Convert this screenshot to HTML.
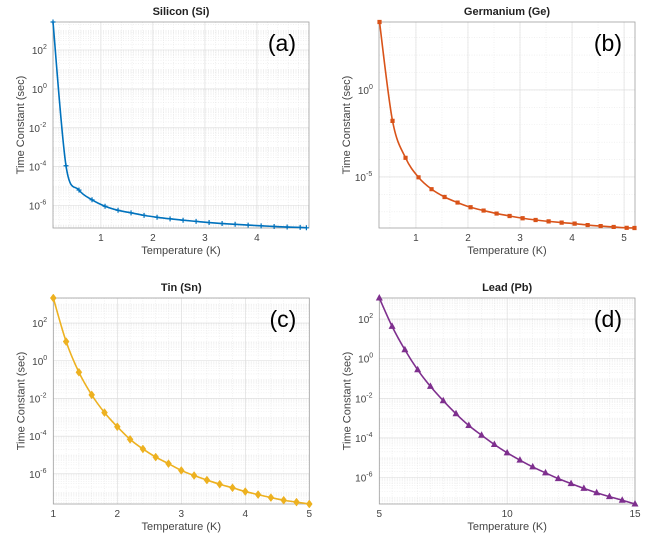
<!DOCTYPE html>
<html><head><meta charset="utf-8"><style>
html,body{margin:0;padding:0;background:#fff;}
svg{display:block;font-family:"Liberation Sans",Arial,sans-serif;}
</style></head><body>
<svg id="fig" width="665" height="539" viewBox="0 0 665 539"></svg>
<script>
// ---- data (log10 of time constant in seconds) ----
const siTemps = [0.08,0.33,0.58,0.83,1.08,1.33,1.58,1.83,2.08,2.33,2.58,2.83,3.08,3.33,3.58,3.83,4.08,4.33,4.58,4.83,4.95];
const siLogTau = [3.44,-3.95,-5.2,-5.7,-6.03,-6.24,-6.37,-6.5,-6.6,-6.68,-6.75,-6.81,-6.87,-6.92,-6.96,-7.0,-7.04,-7.07,-7.1,-7.12,-7.14];
const geTemps = [0.3,0.55,0.8,1.05,1.3,1.55,1.8,2.05,2.3,2.55,2.8,3.05,3.3,3.55,3.8,4.05,4.3,4.55,4.8,5.05,5.2];
const geLogTau = [3.9,-1.78,-3.9,-5.02,-5.7,-6.15,-6.47,-6.74,-6.93,-7.1,-7.24,-7.37,-7.47,-7.55,-7.62,-7.68,-7.76,-7.82,-7.87,-7.92,-7.93];
const snTemps = [1,1.2,1.4,1.6,1.8,2,2.2,2.4,2.6,2.8,3,3.2,3.4,3.6,3.8,4,4.2,4.4,4.6,4.8,5];
const snLogTau = [3.33,1.02,-0.61,-1.81,-2.75,-3.5,-4.17,-4.68,-5.11,-5.46,-5.82,-6.09,-6.33,-6.55,-6.74,-6.94,-7.1,-7.26,-7.4,-7.5,-7.6];
const pbTemps = [5,5.5,6,6.5,7,7.5,8,8.5,9,9.5,10,10.5,11,11.5,12,12.5,13,13.5,14,14.5,15];
const pbLogTau = [3.06,1.63,0.45,-0.56,-1.4,-2.12,-2.78,-3.37,-3.86,-4.33,-4.75,-5.12,-5.46,-5.76,-6.05,-6.3,-6.54,-6.76,-6.96,-7.14,-7.33];
const siXTicks = [1,2,3,4];
const geXTicks = [1,2,3,4,5];
const snXTicks = [1,2,3,4,5];
const pbXTicks = [5,10,15];
const logYTicks = [2,0,-2,-4,-6];
const geYTicks = [0,-5];

const NS="http://www.w3.org/2000/svg";
const svg=document.getElementById('fig');
function mk(tag,attrs,parent){const e=document.createElementNS(NS,tag);for(const k in attrs)e.setAttribute(k,attrs[k]);(parent||svg).appendChild(e);return e;}

function panel(o){
  const g=mk('g',{});
  
  
  const sx=v=>o.x0+(v-o.xmin)/(o.xmax-o.xmin)*(o.x1-o.x0);
  const sy=v=>o.y1-(v-o.ymin)/(o.ymax-o.ymin)*(o.y1-o.y0);
  for(let v=Math.ceil(o.xmin/o.xminor)*o.xminor; v<o.xmax; v+=o.xminor){
    const l=mk('line',{x1:sx(v),x2:sx(v),y1:o.y0,y2:o.y1,stroke:'#e8e8e8','stroke-width':0.6,'stroke-dasharray':'1,1.5'},g);
    
    
  }
  for(let d=Math.floor(o.ymin); d<=Math.ceil(o.ymax); d++){
    const ks=o.decadeMinor?[1]:[1,2,3,4,5,6,7,8,9];
    ks.forEach(k=>{const v=d+Math.log10(k); if(v<=o.ymin||v>=o.ymax)return;
      const l=mk('line',{x1:o.x0,x2:o.x1,y1:sy(v),y2:sy(v),stroke:'#e8e8e8','stroke-width':0.6,'stroke-dasharray':'1,1.5'},g);
      
      
    });
  }
  o.xticks.forEach(t=>{
    const l=mk('line',{x1:sx(t),x2:sx(t),y1:o.y0,y2:o.y1,stroke:'#dadada','stroke-width':0.6},g);
    
    
    const tx=mk('text',{x:sx(t),y:o.y1+13,'font-size':10,fill:'#444','text-anchor':'middle'},g);
    tx.textContent=t;
    
    
  });
  o.yticks.forEach(t=>{
    const l=mk('line',{x1:o.x0,x2:o.x1,y1:sy(t),y2:sy(t),stroke:'#dadada','stroke-width':0.6},g);
    
    
    const xx=o.x0-4-(String(t).length>1?9:6);
    const tx=mk('text',{x:xx,y:sy(t)+4,'font-size':10,fill:'#444','text-anchor':'end'},g);
    tx.textContent='10';
    
    
    const sup=mk('text',{x:xx,y:sy(t)-1,'font-size':7,fill:'#444','text-anchor':'start'},g);
    sup.textContent=t;
    
    
  });
  const box=mk('rect',{x:o.x0,y:o.y0,width:o.x1-o.x0,height:o.y1-o.y0,fill:'none',stroke:'#a0a0a0','stroke-width':0.8},g);
  
  
  const P=o.xs.map((x,i)=>[sx(x),sy(o.ys[i])]);
  let d='M'+P[0][0]+','+P[0][1];
  for(let i=0;i<P.length-1;i++){
    const p0=P[Math.max(0,i-1)],p1=P[i],p2=P[i+1],p3=P[Math.min(P.length-1,i+2)];
    const c1=[p1[0]+(p2[0]-p0[0])/6,p1[1]+(p2[1]-p0[1])/6],c2=[p2[0]-(p3[0]-p1[0])/6,p2[1]-(p3[1]-p1[1])/6];
    d+=` C${c1[0]},${c1[1]} ${c2[0]},${c2[1]} ${p2[0]},${p2[1]}`;
  }
  const path=mk('path',{d:d,fill:'none',stroke:o.color,'stroke-width':1.6},g);
  
  
  P.forEach(([x,y])=>{
    let m;
    if(o.marker==='plus') m=mk('path',{d:`M${x-2.5},${y}H${x+2.5}M${x},${y-2.5}V${y+2.5}`,stroke:o.color,'stroke-width':1.2},g);
    else if(o.marker==='square') m=mk('path',{d:`M${x-1.7},${y-1.7}h3.4v3.4h-3.4z`,fill:o.color,stroke:o.color,'stroke-width':0.8},g);
    else if(o.marker==='diamond') m=mk('path',{d:`M${x},${y-4}L${x+3},${y}L${x},${y+4}L${x-3},${y}z`,fill:o.color,stroke:o.color,'stroke-width':0.5},g);
    else m=mk('path',{d:`M${x},${y-4}L${x+3.5},${y+2.5}L${x-3.5},${y+2.5}z`,fill:o.color},g);
    
    
  });
  const t=mk('text',{x:(o.x0+o.x1)/2,y:o.y0-7,'font-size':11,'font-weight':'bold',fill:'#222','text-anchor':'middle'},g);
  t.textContent=o.title;
  
  
  const xl=mk('text',{x:(o.x0+o.x1)/2,y:o.y1+26,'font-size':11,fill:'#444','text-anchor':'middle'},g);
  xl.textContent='Temperature (K)';
  
  
  const cy=(o.y0+o.y1)/2, lx=o.x0-29;
  const yl=mk('text',{x:lx,y:cy,'font-size':11,fill:'#444','text-anchor':'middle',transform:`rotate(-90 ${lx} ${cy})`},g);
  yl.textContent='Time Constant (sec)';
  
  
  const lab=mk('text',{x:o.x1-13,y:o.y0+29,'font-size':23,fill:'#000','text-anchor':'end'},g);
  lab.textContent=o.label;
  
  
}
panel({id:'silicon',title:'Silicon (Si)',label:'(a)',x0:53,x1:309,y0:22,y1:228,xmin:0.08,xmax:5.0,ymin:-7.15,ymax:3.44,xs:siTemps,ys:siLogTau,xticks:siXTicks,yticks:logYTicks,xminor:0.2,color:'#0072BD',marker:'plus'});
panel({id:'germanium',title:'Germanium (Ge)',label:'(b)',x0:379,x1:635,y0:22,y1:228,xmin:0.29,xmax:5.21,ymin:-7.93,ymax:3.9,xs:geTemps,ys:geLogTau,xticks:geXTicks,yticks:geYTicks,xminor:0.5,decadeMinor:true,color:'#D95319',marker:'square'});
panel({id:'tin',title:'Tin (Sn)',label:'(c)',x0:53.3,x1:309.3,y0:298,y1:504,xmin:1,xmax:5,ymin:-7.6,ymax:3.33,xs:snTemps,ys:snLogTau,xticks:snXTicks,yticks:logYTicks,xminor:0.2,color:'#EDB120',marker:'diamond'});
panel({id:'lead',title:'Lead (Pb)',label:'(d)',x0:379.3,x1:635,y0:298,y1:504,xmin:5,xmax:15,ymin:-7.33,ymax:3.06,xs:pbTemps,ys:pbLogTau,xticks:pbXTicks,yticks:logYTicks,xminor:0.5,color:'#7E2F8E',marker:'triangle'});
</script>
</body></html>
